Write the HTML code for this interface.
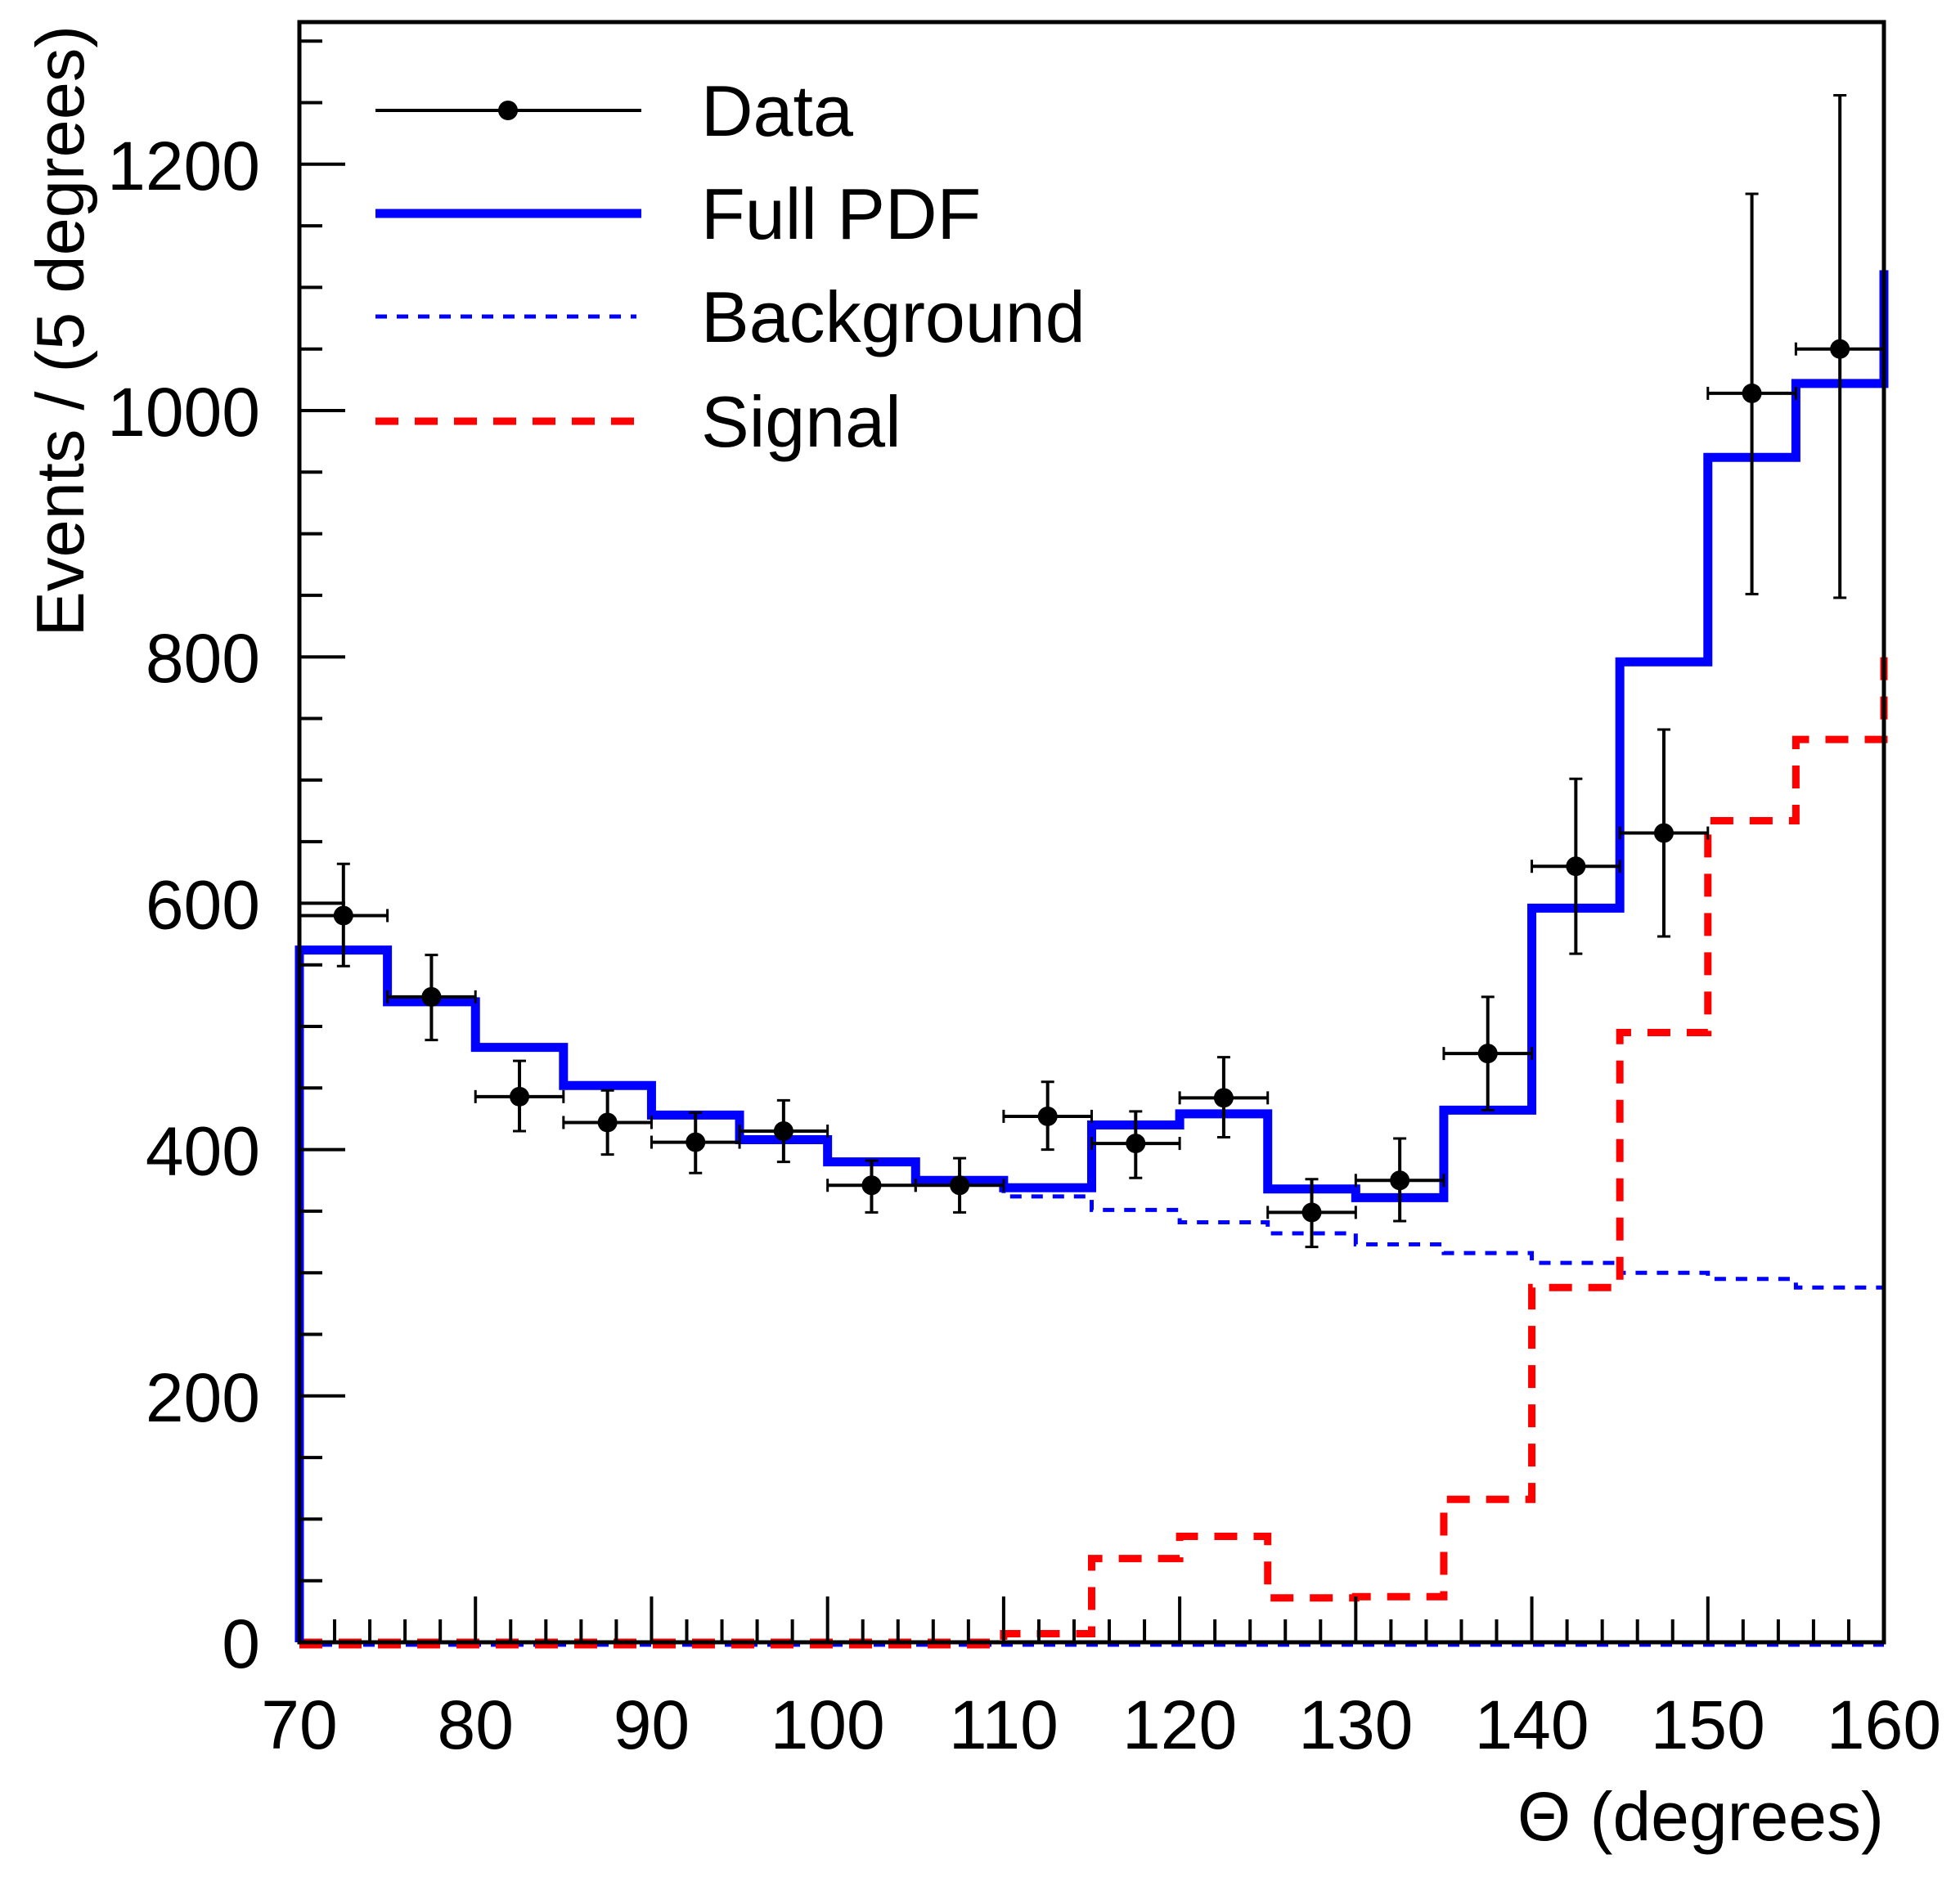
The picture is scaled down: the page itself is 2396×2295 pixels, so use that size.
<!DOCTYPE html>
<html><head><meta charset="utf-8"><style>
html,body{margin:0;padding:0;background:#fff;}
svg{display:block;font-family:"Liberation Sans",sans-serif;}
</style></head><body>
<svg id="chart" xmlns="http://www.w3.org/2000/svg" width="2396" height="2295" viewBox="0 0 2396 2295">
<rect x="0" y="0" width="2396" height="2295" fill="#fff"/>
<g id="plot"></g>
<g id="axes"></g>
<g id="legend"></g>
</svg>
<script>
const binEdges = [70,75,80,85,90,95,100,105,110,115,120,125,130,135,140,145,150,155,160];
const dataX = [72.5,77.5,82.5,87.5,92.5,97.5,102.5,107.5,112.5,117.5,122.5,127.5,132.5,137.5,142.5,147.5,152.5,157.5];
const dataY = [590,524,443,422,406,415,371,371,427,405,442,349,375,478,630,657,1014,1050];
const dataHi = [632,558,472,448,430,440,391,393,455,431,475,376,409,524,701,741,1176,1256];
const dataLo = [549,489,415,396,381,390,349,349,400,377,410,321,342,432,559,573,851,848];
const fullPdf = [562,520,483,452,428,408,390,375,369,420,429,368,361,432,596,796,962,1022];
const fullEdge = 1114;
const background = [562,520,483,452,428,408,390,375,362,351,341,332,323,316,308,300,295,288];
const signal = [0,0,0,0,0,0,0,0,7,68,86,36,37,116,288,495,667,733];
const signalEdge = 812;
const xTicks = [70,80,90,100,110,120,130,140,150,160];
const yTicks = [0,200,400,600,800,1000,1200];

const NS = "http://www.w3.org/2000/svg";
const X0=366, X1=2303, Y0=2008, YTOP=27;
const xs = v => X0 + (v-70)*(X1-X0)/90;
const ys = v => Y0 - v*1.506;
function mk(tag, attrs, parent){const e=document.createElementNS(NS,tag);for(const k in attrs)e.setAttribute(k,attrs[k]);parent.appendChild(e);return e;}
const plot=document.getElementById('plot'), axes=document.getElementById('axes'), legend=document.getElementById('legend');

function stepPath(vals, edgeVal, startZero){
  let d = startZero ? `M${xs(binEdges[0])},${ys(0)} L${xs(binEdges[0])},${ys(vals[0])}` : `M${xs(binEdges[0])},${ys(vals[0])}`;
  for(let i=0;i<vals.length;i++){
    d+=` L${xs(binEdges[i])},${ys(vals[i])} L${xs(binEdges[i+1])},${ys(vals[i])}`;
  }
  if(edgeVal!==null) d+=` L${xs(binEdges[binEdges.length-1])},${ys(edgeVal)}`;
  return d;
}
let z1=mk('line',{x1:X0,y1:Y0+3,x2:X1,y2:Y0+3,stroke:'#0000ff','stroke-width':5,'stroke-dasharray':'14 12'},plot);


let z2=mk('line',{x1:X0,y1:Y0+3,x2:xs(110),y2:Y0+3,stroke:'#ff0000','stroke-width':9,'stroke-dasharray':'28 20'},plot);



let bg=mk('path',{d:stepPath(background,null,false),fill:'none',stroke:'#0000ff','stroke-width':5,'stroke-dasharray':'14 12'},plot);


let sg=mk('path',{d:stepPath(signal,signalEdge,false),fill:'none',stroke:'#ff0000','stroke-width':9,'stroke-dasharray':'28 20'},plot);


let fp=mk('path',{d:stepPath(fullPdf,fullEdge,true),fill:'none',stroke:'#0000ff','stroke-width':11,'stroke-linejoin':'miter'},plot);



for(let i=0;i<dataX.length;i++){
  const g=mk('g',{},plot);
  
  
  const cx=xs(dataX[i]), cy=ys(dataY[i]);
  mk('line',{x1:xs(dataX[i]-2.5),y1:cy,x2:xs(dataX[i]+2.5),y2:cy,stroke:'#000','stroke-width':4},g);
  mk('line',{x1:cx,y1:ys(dataHi[i]),x2:cx,y2:ys(dataLo[i]),stroke:'#000','stroke-width':4},g);
  mk('line',{x1:xs(dataX[i]-2.5),y1:cy-8,x2:xs(dataX[i]-2.5),y2:cy+8,stroke:'#000','stroke-width':3},g);
  mk('line',{x1:xs(dataX[i]+2.5),y1:cy-8,x2:xs(dataX[i]+2.5),y2:cy+8,stroke:'#000','stroke-width':3},g);
  mk('line',{x1:cx-8,y1:ys(dataHi[i]),x2:cx+8,y2:ys(dataHi[i]),stroke:'#000','stroke-width':3},g);
  mk('line',{x1:cx-8,y1:ys(dataLo[i]),x2:cx+8,y2:ys(dataLo[i]),stroke:'#000','stroke-width':3},g);
  mk('circle',{cx:cx,cy:cy,r:12,fill:'#000'},g);
}

let fr=mk('rect',{x:X0,y:YTOP,width:X1-X0,height:Y0-YTOP,fill:'none',stroke:'#000','stroke-width':5},axes);


for(let v=70;v<=160;v+=2){
  const major=(v%10===0), x=xs(v);
  mk('line',{x1:x,y1:Y0,x2:x,y2:Y0-(major?56:28),stroke:'#000','stroke-width':4},axes);
}
xTicks.forEach(v=>{
  const t=mk('text',{x:xs(v),y:2138,'font-size':84,'text-anchor':'middle',fill:'#000'},axes);
  t.textContent=v;
  
  
});
for(let v=0;v<=1300;v+=50){
  const major=(v%200===0), y=ys(v);
  mk('line',{x1:X0,y1:y,x2:X0+(major?56:28),y2:y,stroke:'#000','stroke-width':4},axes);
}
yTicks.forEach(v=>{
  const t=mk('text',{x:318,y:ys(v)+31,'font-size':84,'text-anchor':'end',fill:'#000'},axes);
  t.textContent=v;
  
  
});
const xt=mk('text',{x:X1,y:2250,'font-size':84,'text-anchor':'end',fill:'#000'},axes);
xt.textContent='Θ (degrees)';


const yt=mk('text',{x:0,y:0,'font-size':83,'text-anchor':'end',fill:'#000',transform:'translate(102,31) rotate(-90)'},axes);
yt.textContent='Events / (5 degrees)';



const entries=[
 {label:'Data',y:135,name:'legend-data'},
 {label:'Full PDF',y:261,name:'legend-full-pdf'},
 {label:'Background',y:387,name:'legend-background'},
 {label:'Signal',y:515,name:'legend-signal'}];
entries.forEach((e,i)=>{
  const g=mk('g',{},legend);
  
  
  if(i===0){mk('line',{x1:459,y1:e.y,x2:784,y2:e.y,stroke:'#000','stroke-width':4},g);mk('circle',{cx:621,cy:e.y,r:12,fill:'#000'},g);}
  if(i===1)mk('line',{x1:459,y1:e.y,x2:784,y2:e.y,stroke:'#0000ff','stroke-width':11},g);
  if(i===2)mk('line',{x1:459,y1:e.y,x2:778,y2:e.y,stroke:'#0000ff','stroke-width':5,'stroke-dasharray':'14 12'},g);
  if(i===3)mk('line',{x1:459,y1:e.y,x2:778,y2:e.y,stroke:'#ff0000','stroke-width':9,'stroke-dasharray':'28 20'},g);
  const t=mk('text',{x:857,y:e.y+31,'font-size':88,fill:'#000'},g);
  t.textContent=e.label;
});
</script>
</body></html>
